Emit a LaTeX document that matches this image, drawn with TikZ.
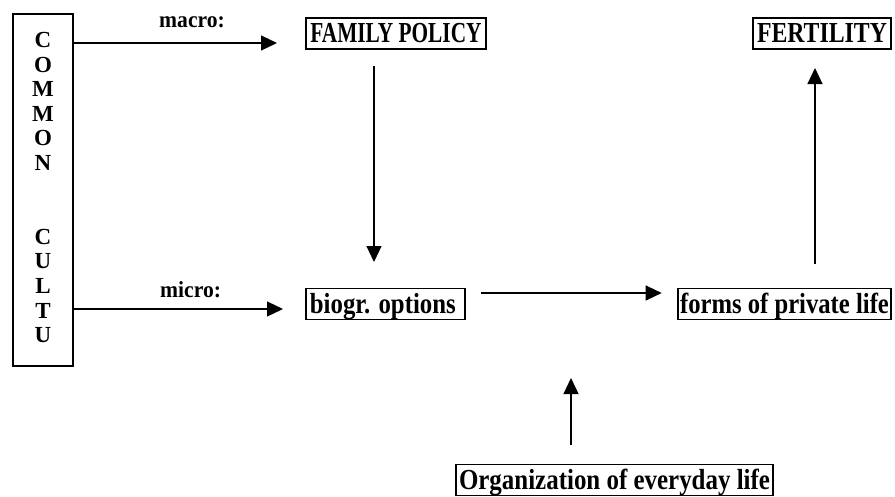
\documentclass[tikz,border=0pt]{standalone}
\usepackage{fontspec}
\setmainfont{Liberation Serif}
\usepackage{graphicx}
\usetikzlibrary{arrows.meta}
\tikzset{
  lbl/.style={draw, line width=1.8pt, inner sep=0pt, text height=24.5pt, text depth=6.5pt,
    minimum height=31pt, font=\fontsize{29pt}{31pt}\selectfont\bfseries},
  conn/.style={line width=1.2pt, -{Triangle[length=16pt,width=15pt]}},
  small/.style={font=\fontsize{23pt}{26pt}\selectfont\bfseries, inner sep=0pt, anchor=base west},
  colbox/.style={draw, line width=1.3pt, minimum width=60pt, minimum height=352pt, inner sep=0pt},
  colletter/.style={font=\fontsize{23pt}{27pt}\selectfont\bfseries, inner sep=0pt, anchor=base}
}
\begin{document}
\begin{tikzpicture}[x=1pt,y=-1pt]
\useasboundingbox[fill=white] (0,0) rectangle (895,496);
% common culture column
\node[colbox] (cc) at (43,190) {};
\foreach \ch/\r in {C/1,O/2,M/3,M/4,O/5,N/6,C/9,U/10,L/11,T/12,U/13}
  \node[colletter] (c\r) at (43,{47.5+24.6*(\r-1)}) {\ch};
% boxes
\node[lbl, minimum width=180pt] (fp) at (396,33.5) {\scalebox{0.735}[1]{FAMILY POLICY}};
\node[lbl, minimum width=138pt] (fe) at (822,33.5) {\scalebox{0.82}[1]{FERTILITY}};
\node[lbl, minimum width=159pt] (bo) at (385.5,304) {\scalebox{0.855}[1]{biogr. options}\hspace*{5.3pt}};
\node[lbl, minimum width=213pt] (fl) at (784.5,304) {\scalebox{0.85}[1]{forms of private life}};
\node[lbl, minimum width=317pt] (oe) at (614.5,480) {\scalebox{0.86}[1]{Organization of everyday life}};
% labels
\node[small] (mac) at (159,27) {\scalebox{0.94}[1]{macro:}};
\node[small] (mic) at (160,297.7) {\scalebox{0.94}[1]{micro:}};
% connector end points
\coordinate (macE) at (277,43);
\coordinate (micE) at (283,309);
\coordinate (dS) at (374,66);
\coordinate (dE) at (374,262);
\coordinate (uS) at (815,264);
\coordinate (uE) at (815,68);
\coordinate (hS) at (481,293);
\coordinate (hE) at (661.7,293);
\coordinate (vS) at (571,445);
\coordinate (vE) at (571,378);
% connectors
\draw[conn] (cc.east |- macE) -- (macE);
\draw[conn] (cc.east |- micE) -- (micE);
\draw[conn] (dS) -- (dE);
\draw[conn] (uS) -- (uE);
\draw[conn] (hS) -- (hE);
\draw[conn] (vS) -- (vE);
\end{tikzpicture}
\end{document}
